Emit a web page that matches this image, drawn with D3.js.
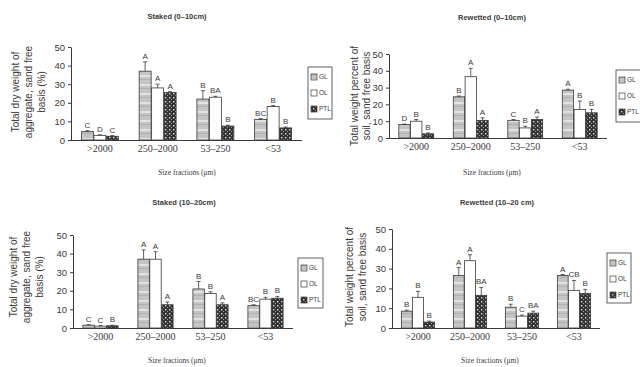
<!DOCTYPE html>
<html>
<head>
<meta charset="utf-8">
<script src="https://cdn.jsdelivr.net/npm/d3@7"></script>
<style>
  html, body { margin: 0; padding: 0; background: #fff; }
  svg { display: block; }
</style>
</head>
<body>
<svg id="chart" width="640" height="367"></svg>
<script>
// Size fractions and treatments
const categories = [">2000", "250–2000", "53–250", "<53"];
const series = ["GL", "OL", "PTL"];
const yTicks = [0, 10, 20, 30, 40, 50];

// Staked (0–10cm)
const staked010GL  = [4.5, 37, 22, 11];
const staked010OL  = [2.5, 28, 23, 18];
const staked010PTL = [2, 25.5, 7.5, 6.5];
const staked010ErrGL  = [0.5, 5, 4.5, 0.5];
const staked010ErrOL  = [0.3, 2, 0.5, 0.5];
const staked010ErrPTL = [0.4, 0.5, 0.5, 0.5];
const staked010LetGL  = ["C", "A", "B", "BC"];
const staked010LetOL  = ["D", "A", "BA", "B"];
const staked010LetPTL = ["C", "A", "B", "B"];

// Rewetted (0–10cm)
const rew010GL  = [8, 24.5, 10.5, 28.5];
const rew010OL  = [10, 36.5, 6, 17];
const rew010PTL = [2.5, 10.5, 11, 15];
const rew010ErrGL  = [0.3, 0.5, 0.5, 0.5];
const rew010ErrOL  = [1, 5, 1, 5];
const rew010ErrPTL = [0.5, 1.5, 1.5, 2];
const rew010LetGL  = ["D", "B", "C", "A"];
const rew010LetOL  = ["B", "A", "B", "B"];
const rew010LetPTL = ["B", "A", "A", "B"];

// Staked (10–20cm)
const staked1020GL  = [1.5, 37, 21, 12];
const staked1020OL  = [1, 37, 18.5, 15.5];
const staked1020PTL = [1.2, 12.5, 12.5, 16];
const staked1020ErrGL  = [0.3, 5, 4, 0.5];
const staked1020ErrOL  = [0.3, 4, 1, 1];
const staked1020ErrPTL = [0.3, 1.5, 1, 1];
const staked1020LetGL  = ["C", "A", "B", "BC"];
const staked1020LetOL  = ["C", "A", "B", "B"];
const staked1020LetPTL = ["B", "A", "A", "B"];

// Rewetted (10–20 cm)
const rew1020GL  = [8.5, 26.5, 10.5, 26.5];
const rew1020OL  = [15.5, 34, 6, 19];
const rew1020PTL = [3, 16.5, 7.5, 17.5];
const rew1020ErrGL  = [0.5, 4, 1.5, 0.5];
const rew1020ErrOL  = [3, 3, 0.5, 5];
const rew1020ErrPTL = [0.5, 4, 1, 2];
const rew1020LetGL  = ["B", "A", "B", "A"];
const rew1020LetOL  = ["B", "A", "C", "CB"];
const rew1020LetPTL = ["B", "BA", "BA", "B"];

const svg = d3.select("#chart");
const ink = "#3a3a3a";

// Fill patterns for the three treatments
const defs = svg.append("defs");
const pGL = defs.append("pattern").attr("id", "pat-GL")
  .attr("patternUnits", "userSpaceOnUse").attr("width", 6).attr("height", 9);
pGL.append("rect").attr("width", 6).attr("height", 9).attr("fill", "#c4c4c4");
pGL.append("rect").attr("y", 3).attr("width", 6).attr("height", 2).attr("fill", "#e2e2e2");
pGL.append("rect").attr("y", 7).attr("width", 6).attr("height", 1).attr("fill", "#b0b0b0");

const pPTL = defs.append("pattern").attr("id", "pat-PTL")
  .attr("patternUnits", "userSpaceOnUse").attr("width", 4).attr("height", 4);
pPTL.append("rect").attr("width", 4).attr("height", 4).attr("fill", "#333");
pPTL.append("rect").attr("x", 1).attr("y", 1).attr("width", 1.4).attr("height", 1.4).attr("fill", "#d8d8d8");
pPTL.append("rect").attr("x", 3).attr("y", 3).attr("width", 1.2).attr("height", 1.2).attr("fill", "#999");

const fills = { GL: "url(#pat-GL)", OL: "#fff", PTL: "url(#pat-PTL)" };

const panels = [
  { title: "Staked (0–10cm)", vals: [staked010GL, staked010OL, staked010PTL],
    errs: [staked010ErrGL, staked010ErrOL, staked010ErrPTL],
    lets: [staked010LetGL, staked010LetOL, staked010LetPTL],
    ylab: ["Total dry weight of", "aggregate, sand free", "basis (%)"],
    x0: 71, x1: 302, y0: 140, y50: 47, ylabX: 15, ylabY: 92, ylabStep: 13,
    titleX: 177, titleY: 19, xlabX: 187, xlabY: 175, legend: [308, 67, 24, 52] },
  { title: "Rewetted (0–10cm)", vals: [rew010GL, rew010OL, rew010PTL],
    errs: [rew010ErrGL, rew010ErrOL, rew010ErrPTL],
    lets: [rew010LetGL, rew010LetOL, rew010LetPTL],
    ylab: ["Total weight percent of", "soil, sand free basis"],
    x0: 389, x1: 607, y0: 138, y50: 54, ylabX: 354, ylabY: 96, ylabStep: 12,
    titleX: 492, titleY: 20, xlabX: 492, xlabY: 175, legend: [616, 70, 26, 52] },
  { title: "Staked (10–20cm)", vals: [staked1020GL, staked1020OL, staked1020PTL],
    errs: [staked1020ErrGL, staked1020ErrOL, staked1020ErrPTL],
    lets: [staked1020LetGL, staked1020LetOL, staked1020LetPTL],
    ylab: ["Total dry weight of", "aggregate, sand free", "basis (%)"],
    x0: 73, x1: 293, y0: 328, y50: 235, ylabX: 13, ylabY: 277, ylabStep: 13,
    titleX: 184, titleY: 205, xlabX: 177, xlabY: 363, legend: [298, 258, 25, 50] },
  { title: "Rewetted (10–20 cm)", vals: [rew1020GL, rew1020OL, rew1020PTL],
    errs: [rew1020ErrGL, rew1020ErrOL, rew1020ErrPTL],
    lets: [rew1020LetGL, rew1020LetOL, rew1020LetPTL],
    ylab: ["Total weight percent of", "soil, sand free basis"],
    x0: 392, x1: 600, y0: 328, y50: 229, ylabX: 349, ylabY: 277, ylabStep: 13,
    titleX: 497, titleY: 205, xlabX: 490, xlabY: 363, legend: [607, 253, 24, 50] }
];

panels.forEach(p => {
  const g = svg.append("g");
  const x = d3.scaleBand().domain(categories).range([p.x0, p.x1]).paddingInner(0.36).paddingOuter(0.18);
  const xs = d3.scaleBand().domain(series).range([0, x.bandwidth()]).paddingInner(0.04);
  const y = d3.scaleLinear().domain([0, 50]).range([p.y0, p.y50]);

  // Title
  g.append("text").attr("x", p.titleX).attr("y", p.titleY).attr("text-anchor", "middle")
    .attr("font-family", "Liberation Sans, Arial, sans-serif").attr("font-weight", "bold")
    .attr("font-size", 7.5).attr("fill", ink).text(p.title);

  // Bars, error bars and significance letters
  series.forEach((s, si) => {
    const rows = categories.map((c, ci) => ({ c, v: p.vals[si][ci], e: p.errs[si][ci], l: p.lets[si][ci] }));
    const bx = d => x(d.c) + xs(s);
    const bw = xs.bandwidth();
    g.selectAll(null).data(rows).enter().append("rect")
      .attr("x", bx).attr("y", d => y(d.v)).attr("width", bw)
      .attr("height", d => y(0) - y(d.v))
      .attr("fill", fills[s]).attr("stroke", ink).attr("stroke-width", 0.8);
    g.selectAll(null).data(rows).enter().append("path")
      .attr("d", d => {
        const cx = bx(d) + bw / 2, t = y(d.v + d.e);
        return `M${cx},${y(d.v)}V${t}M${cx - 2},${t}H${cx + 2}`;
      })
      .attr("stroke", ink).attr("stroke-width", 0.8).attr("fill", "none");
    g.selectAll(null).data(rows).enter().append("text")
      .attr("x", d => bx(d) + bw / 2).attr("y", d => y(d.v + d.e) - 3)
      .attr("text-anchor", "middle")
      .attr("font-family", "Liberation Sans, Arial, sans-serif").attr("font-size", 8)
      .attr("fill", ink).text(d => d.l);
  });

  // Axes
  const xAxis = g.append("g").attr("transform", `translate(0,${p.y0})`)
    .call(d3.axisBottom(x).tickSize(0).tickPadding(5).tickSizeOuter(0));
  xAxis.select(".domain").attr("d", `M${p.x0},0.5H${p.x1}`).attr("stroke", ink);
  xAxis.selectAll("text").attr("font-family", "Liberation Serif, Times New Roman, serif")
    .attr("font-size", 10).attr("fill", ink);

  const yAxis = g.append("g").attr("transform", `translate(${p.x0},0)`)
    .call(d3.axisLeft(y).tickValues(yTicks).tickSize(3).tickPadding(3).tickSizeOuter(0));
  yAxis.select(".domain").attr("stroke", ink);
  yAxis.selectAll(".tick line").attr("stroke", ink);
  yAxis.selectAll("text").attr("font-family", "Liberation Sans, Arial, sans-serif")
    .attr("font-size", 9.5).attr("fill", ink);

  // Axis titles
  p.ylab.forEach((line, i) => {
    g.append("text")
      .attr("transform", `translate(${p.ylabX + i * p.ylabStep},${p.ylabY}) rotate(-90)`)
      .attr("text-anchor", "middle").attr("dy", "0.35em")
      .attr("font-family", "Liberation Sans, Arial, sans-serif").attr("font-size", 10)
      .attr("fill", ink).text(line);
  });
  g.append("text").attr("x", p.xlabX).attr("y", p.xlabY).attr("text-anchor", "middle")
    .attr("font-family", "Liberation Serif, Times New Roman, serif").attr("font-size", 7.5)
    .attr("fill", ink).text("Size fractions (μm)");

  // Legend
  const [lx, ly, lw, lh] = p.legend;
  const lg = g.append("g").attr("transform", `translate(${lx},${ly})`);
  lg.append("rect").attr("width", lw).attr("height", lh).attr("fill", "#fff")
    .attr("stroke", ink).attr("stroke-width", 0.8);
  series.forEach((s, i) => {
    const cy = 10 + i * 16;
    lg.append("rect").attr("x", 3).attr("y", cy - 3).attr("width", 6).attr("height", 6)
      .attr("fill", fills[s]).attr("stroke", ink).attr("stroke-width", 0.7);
    lg.append("text").attr("x", 11).attr("y", cy).attr("dy", "0.35em")
      .attr("font-family", "Liberation Sans, Arial, sans-serif").attr("font-size", 6.5)
      .attr("fill", ink).text(s);
  });
});
</script>
</body>
</html>
